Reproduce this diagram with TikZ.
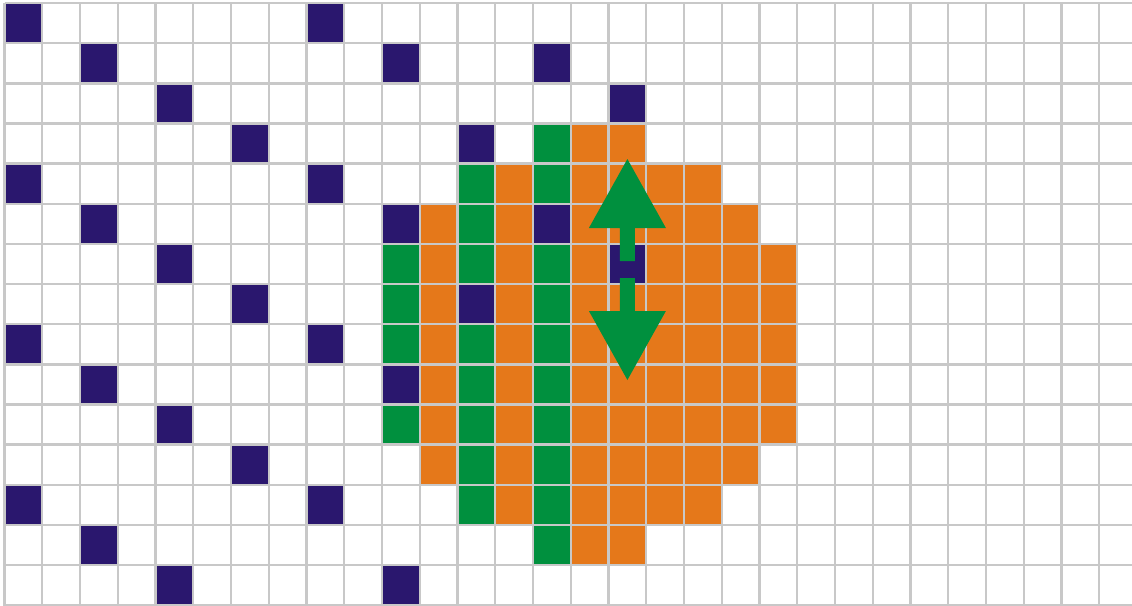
\documentclass[tikz,border=0pt]{standalone}
\definecolor{navy}{RGB}{42,23,110}
\definecolor{gorange}{RGB}{229,120,26}
\definecolor{ggreen}{RGB}{0,144,62}
\definecolor{gridgray}{RGB}{200,200,200}
\newcommand\cwid{37.75}
\newcommand\chei{40.15}
\newcommand\mycell[3]{\fill[#1] ({4.5+37.75*(#2)},{3+40.15*(#3)}) rectangle ++(37.75,40.15);}
\begin{document}
\begin{tikzpicture}[x=1pt,y=-1pt]
\useasboundingbox (0,0) rectangle (1132,605);
\fill[white] (0,0) rectangle (1132,605);
\begin{scope}
\clip (0,0) rectangle (1132,605);
% navy cells
\foreach \c/\r in {0/0,8/0,2/1,10/1,14/1,4/2,16/2,6/3,12/3,0/4,8/4,2/5,10/5,14/5,4/6,16/6,6/7,12/7,0/8,8/8,2/9,10/9,4/10,6/11,0/12,8/12,2/13,4/14,10/14}
  {\mycell{navy}{\c}{\r}}
% green columns
\foreach \r in {6,7,8,10} {\mycell{ggreen}{10}{\r}}
\foreach \r in {4,5,6,8,9,10,11,12} {\mycell{ggreen}{12}{\r}}
\foreach \r in {3,4,6,7,8,9,10,11,12,13} {\mycell{ggreen}{14}{\r}}
% orange cells
\foreach \r in {5,...,11} {\mycell{gorange}{11}{\r}}
\foreach \r in {4,...,12} {\mycell{gorange}{13}{\r}}
\foreach \r in {3,...,13} {\mycell{gorange}{15}{\r}}
\foreach \r in {3,4,5,7,8,9,10,11,12,13} {\mycell{gorange}{16}{\r}}
\foreach \r in {4,...,12} {\mycell{gorange}{17}{\r}\mycell{gorange}{18}{\r}}
\foreach \r in {5,...,11} {\mycell{gorange}{19}{\r}}
\foreach \r in {6,...,10} {\mycell{gorange}{20}{\r}}
% grid
\foreach \c in {0,...,29} {\draw[gridgray,line width=2.4pt] ({4.5+37.75*\c},3) -- ({4.5+37.75*\c},610);}
\foreach \r in {0,...,15} {\draw[gridgray,line width=2.4pt] (4.5,{3+40.15*\r}) -- (1140,{3+40.15*\r});}
\end{scope}
% double arrow
\fill[ggreen] (619.9,261) -- (619.9,228) -- (588.9,228) -- (627.4,159) -- (665.9,228) -- (634.9,228) -- (634.9,261) -- cycle;
\fill[ggreen] (619.9,278) -- (619.9,311) -- (588.9,311) -- (627.4,380) -- (665.9,311) -- (634.9,311) -- (634.9,278) -- cycle;
\end{tikzpicture}
\end{document}
